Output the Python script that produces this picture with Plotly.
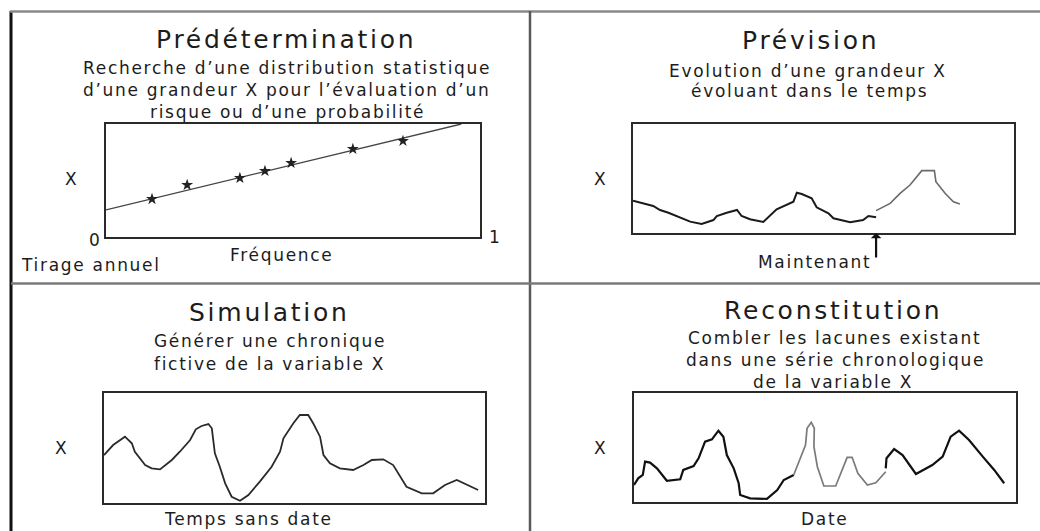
import plotly.graph_objects as go

W, H = 1040, 531

# ---------------- data ----------------
# Prédétermination: fitted line and empirical points (fréquence 0..1, X 0..1)
fit_freq = [0.0, 0.95]
fit_x = [0.24, 1.0]
obs_freq = [0.123, 0.217, 0.358, 0.425, 0.495, 0.660, 0.794]
obs_x = [0.336, 0.460, 0.522, 0.584, 0.655, 0.779, 0.850]

# Prévision: observed (black) and forecast (grey)
prev_obs_t = [0, 5.3, 7.1, 9.3, 15.0, 18.0, 21.1, 22.0, 24.6, 27.3, 28.5, 30.7, 34.2,
              37.7, 42.1, 43.0, 44.3, 46.9, 48.2, 51.3, 52.6, 57.0, 60.4, 61.8, 63.8]
prev_obs_x = [29.6, 24.8, 21.1, 18.6, 10.4, 8.3, 11.9, 15.6, 18.6, 21.1, 15.6, 12.6, 10.1,
              21.7, 28.7, 37.0, 35.8, 31.8, 23.6, 18.1, 13.5, 9.8, 11.9, 15.6, 14.4]
prev_fc_t = [63.8, 67.5, 70.1, 72.7, 75.8, 79.1, 79.5, 81.9, 84.1, 85.8]
prev_fc_x = [20.5, 27.2, 36.4, 44.0, 57.2, 57.2, 47.1, 36.4, 28.7, 26.6]
now_t = 63.8

# Simulation
sim_t = [0, 2.4, 5.5, 7.3, 8.1, 10.8, 12.5, 14.7, 17.8, 19.9, 22.6, 24.1, 25.6, 27.4,
         28.3, 29.1, 30.4, 31.8, 33.5, 35.7, 37.9, 40.9, 44.0, 46.2, 47.1, 49.7, 51.4,
         53.6, 54.9, 56.7, 57.6, 59.3, 61.9, 65.4, 68.1, 70.3, 73.3, 75.9, 79.4, 83.4,
         86.4, 89.5, 92.6, 95.2, 98.2]
sim_x = [43.6, 52.7, 60.3, 54.3, 46.6, 34.5, 31.5, 30.6, 39.1, 46.6, 57.3, 67.0, 70.0,
         71.8, 67.9, 45.2, 33.0, 17.9, 5.7, 2.1, 7.3, 19.4, 33.0, 46.6, 58.8, 72.5, 80.0,
         80.0, 72.5, 60.3, 43.6, 36.1, 31.5, 30.0, 34.5, 39.1, 39.7, 34.5, 14.8, 8.8,
         8.8, 16.4, 20.9, 16.4, 11.8]

# Reconstitution: observed segments (black) and reconstructed gap (grey)
rec1_t = [0, 1.1, 2.3, 2.9, 4.2, 6.0, 8.6, 12.1, 12.9, 15.6, 16.9, 18.6, 20.4, 22.1,
          23.4, 24.3, 26.1, 27.4, 27.8, 30.4, 34.8, 37.5, 39.2, 41.8]
rec1_x = [15.6, 21.7, 24.8, 37.0, 36.1, 30.9, 19.5, 20.8, 29.4, 33.0, 40.1, 55.3, 57.5,
          65.4, 59.9, 43.1, 30.9, 17.2, 6.4, 3.4, 2.8, 11.0, 20.2, 24.8]
recg_t = [41.8, 43.6, 44.9, 45.3, 46.4, 47.2, 47.1, 48.0, 49.7, 52.8, 54.1, 55.8, 57.1,
          58.6, 61.1, 63.3, 65.9]
recg_x = [24.8, 40.1, 52.3, 67.6, 73.1, 67.6, 50.7, 32.4, 14.7, 14.7, 26.3, 41.0, 41.0,
          26.3, 15.6, 17.7, 27.8]
rec2_t = [65.9, 66.1, 68.1, 70.3, 73.8, 78.1, 80.8, 82.9, 85.1, 87.7, 91.3, 94.3, 96.9]
rec2_x = [30.9, 40.1, 48.6, 43.1, 25.7, 33.9, 41.6, 59.9, 65.4, 56.9, 41.6, 29.4, 17.2]

# ---------------- figure ----------------
fig = go.Figure()

INK = "#1c1c1c"
FONT = "DejaVu Sans"


def px(x):
    return x / W


def py(y):
    return 1 - y / H


# plot boxes (pixel rectangles -> paper domains)
boxes = {
    1: (106, 480, 124, 237),
    2: (633, 1014, 124, 233),
    3: (104, 485, 393, 503),
    4: (634, 1016, 393, 502),
}
ranges = {1: ([0, 1], [0, 1]), 2: ([0, 100], [0, 100]), 3: ([0, 100], [0, 100]),
          4: ([0, 100], [0, 100])}

layout_axes = {}
for k, (x0, x1, y0, y1) in boxes.items():
    xs = "xaxis" if k == 1 else f"xaxis{k}"
    ys = "yaxis" if k == 1 else f"yaxis{k}"
    common = dict(showline=True, mirror=True, linecolor="#2a2a2a", linewidth=1.6,
                  showgrid=False, zeroline=False, showticklabels=False, ticks="",
                  fixedrange=True)
    layout_axes[xs] = dict(domain=[px(x0), px(x1)], range=ranges[k][0],
                           anchor="y" if k == 1 else f"y{k}", **common)
    layout_axes[ys] = dict(domain=[py(y1), py(y0)], range=ranges[k][1],
                           anchor="x" if k == 1 else f"x{k}", **common)

# Q1
fig.add_trace(go.Scatter(x=fit_freq, y=fit_x, mode="lines",
                         line=dict(color="#444", width=1.4), xaxis="x", yaxis="y"))
fig.add_trace(go.Scatter(x=obs_freq, y=obs_x, mode="markers",
                         marker=dict(symbol="star", size=9, color="#222"),
                         xaxis="x", yaxis="y"))
# Q2
fig.add_trace(go.Scatter(x=prev_obs_t, y=prev_obs_x, mode="lines",
                         line=dict(color="#1a1a1a", width=2), xaxis="x2", yaxis="y2"))
fig.add_trace(go.Scatter(x=prev_fc_t, y=prev_fc_x, mode="lines",
                         line=dict(color="#6a6a6a", width=1.6), xaxis="x2", yaxis="y2"))
# Q3
fig.add_trace(go.Scatter(x=sim_t, y=sim_x, mode="lines",
                         line=dict(color="#2a2a2a", width=1.8), xaxis="x3", yaxis="y3"))
# Q4
fig.add_trace(go.Scatter(x=rec1_t, y=rec1_x, mode="lines",
                         line=dict(color="#111", width=2.2), xaxis="x4", yaxis="y4"))
fig.add_trace(go.Scatter(x=recg_t, y=recg_x, mode="lines",
                         line=dict(color="#7a7a7a", width=1.7), xaxis="x4", yaxis="y4"))
fig.add_trace(go.Scatter(x=rec2_t, y=rec2_x, mode="lines",
                         line=dict(color="#111", width=2.2), xaxis="x4", yaxis="y4"))


def sp(s, ls):
    return f'<span style="letter-spacing:{ls}em">{s}</span>'


annotations = []


def label(text, x, y, size=17, ls=0.1):
    annotations.append(dict(text=sp(text, ls), x=px(x), y=py(y), xref="paper",
                            yref="paper", xanchor="center", yanchor="middle",
                            showarrow=False, font=dict(family=FONT, size=size, color=INK)))


# Q1 texts
label("Prédétermination", 286, 39.5, 25, 0.11)
label("Recherche d’une distribution statistique", 286.5, 68)
label("d’une grandeur X pour l’évaluation d’un", 286.5, 90.3)
label("risque ou d’une probabilité", 287.5, 112)
label("X", 71, 179)
label("0", 95, 240)
label("1", 495, 236.5)
label("Fréquence", 282, 255)
label("Tirage annuel", 91, 264.5)

# Q2 texts
label("Prévision", 810, 40.5, 25, 0.11)
label("Evolution d’une grandeur X", 808, 71)
label("évoluant dans le temps", 809, 91)
label("X", 600, 179)
label("Maintenant", 814, 261.7)

# Q3 texts
label("Simulation", 269, 312.5, 25, 0.11)
label("Générer une chronique", 270, 341)
label("fictive de la variable X", 269, 363.7)
label("X", 61.7, 447.5)
label("Temps sans date", 248, 519)

# Q4 texts
label("Reconstitution", 833, 310, 25, 0.11)
label("Combler les lacunes existant", 834, 337.5)
label("dans une série chronologique", 835, 360)
label("de la variable X", 833, 382)
label("X", 600, 447.5)
label("Date", 824, 519)

# "Maintenant" arrow pointing at the present time on the Prévision axis
annotations.append(dict(text="", x=now_t, y=0, xref="x2", yref="y2", showarrow=True,
                        ax=0, ay=26, axref="pixel", ayref="pixel", arrowhead=1,
                        arrowsize=0.8, arrowwidth=2.2, arrowcolor="#111"))

# frame lines
shapes = [
    dict(type="line", xref="paper", yref="paper", x0=px(11), x1=px(11), y0=py(11), y1=0,
         line=dict(color="#111", width=3)),
    dict(type="line", xref="paper", yref="paper", x0=px(10), x1=1, y0=py(11.5), y1=py(11.5),
         line=dict(color="#8a8a8a", width=2.5)),
    dict(type="line", xref="paper", yref="paper", x0=px(530), x1=px(530), y0=py(11), y1=0,
         line=dict(color="#5a5a5a", width=2.5)),
    dict(type="line", xref="paper", yref="paper", x0=px(11), x1=1, y0=py(283.5),
         y1=py(283.5), line=dict(color="#7a7a7a", width=2.5)),
]

fig.update_layout(width=W, height=H, autosize=False,
                  margin=dict(l=0, r=0, t=0, b=0, pad=0),
                  paper_bgcolor="white", plot_bgcolor="rgba(0,0,0,0)",
                  showlegend=False, annotations=annotations, shapes=shapes,
                  **layout_axes)

# remove the browser's default 8px page margin so the figure fills the window
fig.write_html("out.html", config={"displayModeBar": False},
               post_script="document.body.style.margin='0';"
                           "document.body.style.overflow='hidden';")
